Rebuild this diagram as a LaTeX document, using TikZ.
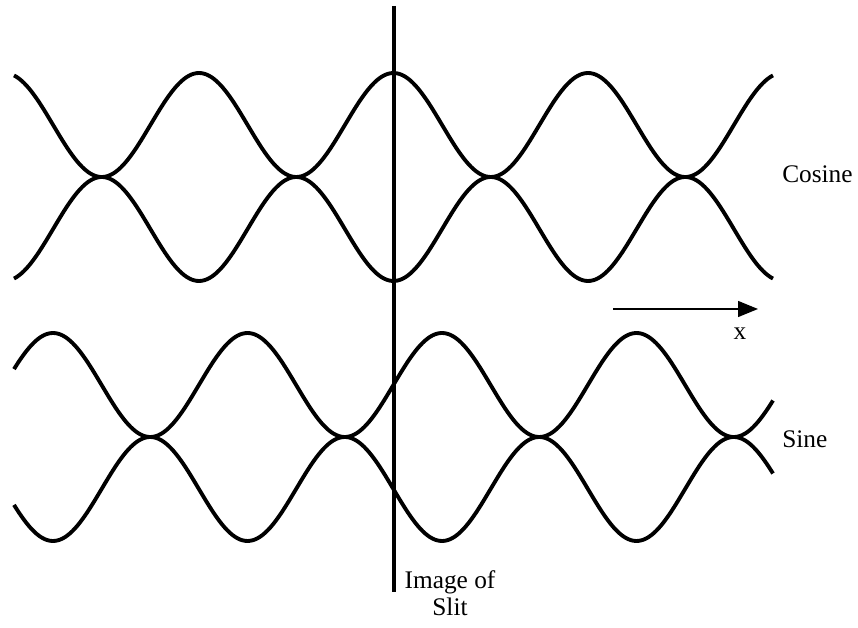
\documentclass[tikz,border=0pt]{standalone}
\usepackage{fontspec}
\setmainfont{Liberation Serif}
\usetikzlibrary{arrows.meta}

\tikzset{
  wave/.style={line width=2.9pt, line join=round},
  slitline/.style={line width=2.4pt},
  lbl/.style={inner sep=0pt, font=\fontsize{19}{20.25}\selectfont}
}

\begin{document}
\begin{tikzpicture}[x=0.75pt,y=0.75pt]
\useasboundingbox (0,0) rectangle (858,628);

% -------------------------------------------------
% Cosine fringes (centre 451, period 389 -> 0.92545 deg per unit)
% -------------------------------------------------
\draw[wave] plot[domain=14:773, samples=300, smooth]
  (\x, {451+104*cos(0.92545*(\x-199))*abs(cos(0.92545*(\x-199)))});
\draw[wave] plot[domain=14:773, samples=300, smooth]
  (\x, {451-104*cos(0.92545*(\x-199))*abs(cos(0.92545*(\x-199)))});

% -------------------------------------------------
% Sine fringes (centre 191)
% -------------------------------------------------
\draw[wave] plot[domain=14:773, samples=300, smooth]
  (\x, {191+104*cos(0.92545*(\x-53))*abs(cos(0.92545*(\x-53)))});
\draw[wave] plot[domain=14:773, samples=300, smooth]
  (\x, {191-104*cos(0.92545*(\x-53))*abs(cos(0.92545*(\x-53)))});

% -------------------------------------------------
% Slit image
% -------------------------------------------------
\coordinate (slittop) at (394,622);
\coordinate (slitbot) at (394,36);
\draw[slitline] (slittop) -- (slitbot);

% -------------------------------------------------
% Direction x
% -------------------------------------------------
\coordinate (xstart) at (613,319);
\coordinate (xend) at (758,319);
\draw[line width=1pt, -{Triangle[length=15pt,width=12pt]}] (xstart) -- (xend);

% -------------------------------------------------
% Labels
% -------------------------------------------------
\node[lbl, anchor=base west] (cosine) at (782,445) {Cosine};
\node[lbl, anchor=base west] (sine) at (782,180) {Sine};
\node[lbl, anchor=base] (xlabel) at (740,288) {x};
\node[lbl, align=center, anchor=north] (slitlabel) at (450,57.5) {Image of\\Slit};

\end{tikzpicture}
\end{document}
